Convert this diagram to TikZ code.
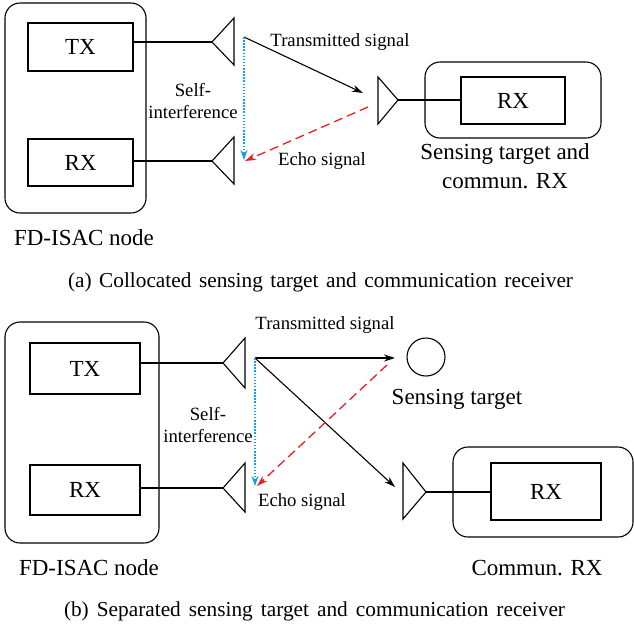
\documentclass[tikz,border=0pt]{standalone}
\usepackage{fontspec}
\setmainfont{Liberation Serif}
\usetikzlibrary{arrows.meta}
\definecolor{sigblue}{RGB}{20,160,230}
\definecolor{sigred}{RGB}{235,30,35}
\tikzset{
  big/.style={font=\fontsize{23}{29}\selectfont},
  small/.style={font=\fontsize{18.7}{22.5}\selectfont},
  captxt/.style={font=\fontsize{21.3}{25}\selectfont, inner sep=0pt},
  blk/.style={draw, line width=1.1pt, inner sep=0pt, big},
  rbox/.style={draw, line width=1.1pt, rounded corners=15pt, inner sep=0pt},
  wire/.style={line width=1.1pt},
  ant/.style={line width=1.1pt, line join=miter},
  arr/.style={line width=1.1pt, -{Stealth[length=11pt,width=7pt]}},
  self/.style={sigblue, line width=1.3pt, dash pattern=on 1.5pt off 1.6pt, -{Stealth[length=10pt,width=7pt]}},
  echo/.style={sigred, line width=1.3pt, dash pattern=on 9pt off 5pt, -{Stealth[length=11pt,width=7pt]}},
}
\begin{document}
\begin{tikzpicture}[x=1pt,y=-1pt]
\useasboundingbox (0,0) rectangle (634,633);
% ===== (a) =====
\node[rbox, minimum width=141pt, minimum height=210pt] (outA) at (75.5,108) {};
\node[blk, minimum width=105pt, minimum height=48pt] (txA) at (80.5,47) {TX};
\node[blk, minimum width=105pt, minimum height=47pt] (rxA) at (80.5,162.5) {RX};
\coordinate (aTa) at (212,42);
\coordinate (aTu) at (234,18);
\coordinate (aTd) at (234,65);
\coordinate (aRa) at (212,161);
\coordinate (aRu) at (234,137);
\coordinate (aRd) at (234,184);
\draw[ant] (aTu) -- (aTa) -- (aTd) -- cycle;
\draw[ant] (aRu) -- (aRa) -- (aRd) -- cycle;
\draw[wire] (txA.east |- aTa) -- (aTa);
\draw[wire] (rxA.east |- aRa) -- (aRa);
\node[rbox, minimum width=176pt, minimum height=76pt] (tgA) at (513,100) {};
\node[blk, minimum width=104pt, minimum height=47pt] (rxA2) at (513,100.5) {RX};
\coordinate (aPa) at (398,100);
\coordinate (aPu) at (378,77);
\coordinate (aPd) at (378,124);
\draw[ant] (aPu) -- (aPa) -- (aPd) -- cycle;
\draw[wire] (aPa) -- (rxA2.west |- aPa);
\coordinate (aS) at (244,37);
\coordinate (aSe) at (244,160);
\coordinate (aTip) at (363,93);
\coordinate (aEs) at (368,107);
\coordinate (aEe) at (245,161);
\draw[arr] (aS) -- (aTip);
\draw[self] (aS) -- (aSe);
\draw[echo] (aEs) -- (aEe);
\node[small] (ltxA) at (340,42) {Transmitted signal};
\node[small, align=center] (lsiA) at (193,101) {Self-\\interference};
\node[small] (lecA) at (322,161) {Echo signal};
\node[big, align=center] (ltgA) at (505,166) {Sensing target and\\commun. RX};
\node[big] (lndA) at (84,238) {FD-ISAC node};
\node[captxt] (capA) at (320.5,282) {\makebox[505pt][s]{(a) Collocated sensing target and communication receiver}};
% ===== (b) =====
\node[rbox, minimum width=154pt, minimum height=221pt] (outB) at (82,432.5) {};
\node[blk, minimum width=110pt, minimum height=51pt] (txB) at (85,368.5) {TX};
\node[blk, minimum width=110pt, minimum height=50pt] (rxB) at (85,490) {RX};
\coordinate (bTa) at (223,363);
\coordinate (bTu) at (245,338);
\coordinate (bTd) at (245,388);
\coordinate (bRa) at (223,488);
\coordinate (bRu) at (245,463);
\coordinate (bRd) at (245,512);
\draw[ant] (bTu) -- (bTa) -- (bTd) -- cycle;
\draw[ant] (bRu) -- (bRa) -- (bRd) -- cycle;
\draw[wire] (txB.east |- bTa) -- (bTa);
\draw[wire] (rxB.east |- bRa) -- (bRa);
\node[draw, circle, line width=1.1pt, minimum size=38pt, inner sep=0pt] (tgt) at (426,357) {};
\node[rbox, minimum width=180pt, minimum height=90pt] (crB) at (543,492) {};
\node[blk, minimum width=110pt, minimum height=57pt] (rxB2) at (546,491.5) {RX};
\coordinate (bPa) at (426,492);
\coordinate (bPu) at (403,463);
\coordinate (bPd) at (403,519);
\draw[ant] (bPu) -- (bPa) -- (bPd) -- cycle;
\draw[wire] (bPa) -- (rxB2.west |- bPa);
\coordinate (bS) at (255,358);
\coordinate (bSe) at (255,486);
\coordinate (bTip1) at (395,358);
\coordinate (bTip2) at (395,487);
\coordinate (bEs) at (387,365);
\coordinate (bEe) at (257,486);
\draw[arr] (bS) -- (bTip1);
\draw[arr] (bS) -- (bTip2);
\draw[self] (bS) -- (bSe);
\draw[echo] (bEs) -- (bEe);
\node[small] (ltxB) at (325,325) {Transmitted signal};
\node[small, align=center] (lsiB) at (208,425) {Self-\\interference};
\node[small] (lecB) at (302,502) {Echo signal};
\node[big] (ltgB) at (457,399) {Sensing target};
\node[big] (lcrB) at (537,568) {Commun. RX};
\node[big] (lndB) at (89,568) {FD-ISAC node};
\node[captxt] (capB) at (314.5,611) {\makebox[501pt][s]{(b) Separated sensing target and communication receiver}};
\end{tikzpicture}
\end{document}
